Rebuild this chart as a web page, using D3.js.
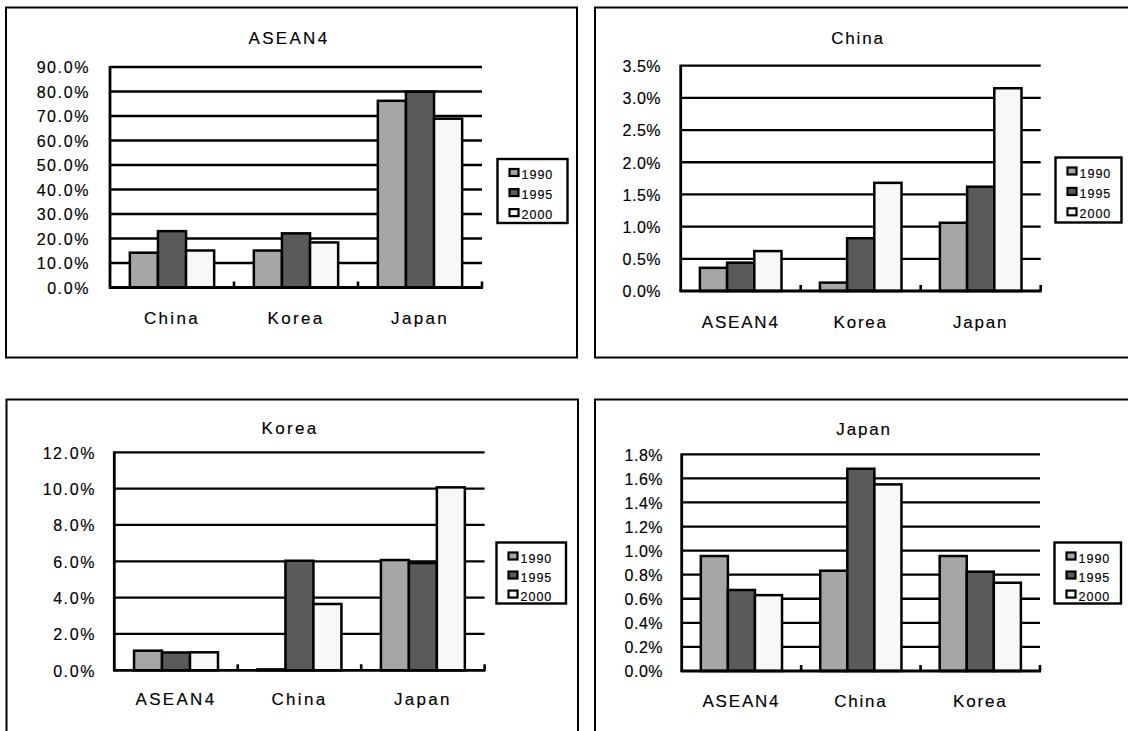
<!DOCTYPE html>
<html>
<head>
<meta charset="utf-8">
<script src="https://cdn.jsdelivr.net/npm/d3@7"></script>
<style>
  html, body { margin: 0; padding: 0; background: #fff; }
  svg { display: block; }
  text { font-family: "Liberation Sans", Arial, sans-serif; fill: #000; stroke: #000; stroke-width: 0.15px; }
</style>
</head>
<body>
<svg id="chart" width="1128" height="731"></svg>
<script>
// Shares by partner, 1990 / 1995 / 2000
const years = ["1990", "1995", "2000"];
const yearColors = ["#a6a6a6", "#5a5a5a", "#f8f8f8"];

// ASEAN4
const aseanPartners = ["China", "Korea", "Japan"];
const asean1990 = [0.142, 0.151, 0.762];
const asean1995 = [0.230, 0.221, 0.799];
const asean2000 = [0.151, 0.184, 0.689];
const aseanTicks = [0, 0.1, 0.2, 0.3, 0.4, 0.5, 0.6, 0.7, 0.8, 0.9];

// China
const chinaPartners = ["ASEAN4", "Korea", "Japan"];
const china1990 = [0.0036, 0.0013, 0.0106];
const china1995 = [0.0044, 0.0082, 0.0162];
const china2000 = [0.0062, 0.0168, 0.0315];
const chinaTicks = [0, 0.005, 0.01, 0.015, 0.02, 0.025, 0.03, 0.035];

// Korea
const koreaPartners = ["ASEAN4", "China", "Japan"];
const korea1990 = [0.0108, 0.0005, 0.0607];
const korea1995 = [0.0098, 0.0603, 0.0590];
const korea2000 = [0.0099, 0.0365, 0.1007];
const koreaTicks = [0, 0.02, 0.04, 0.06, 0.08, 0.10, 0.12];

// Japan
const japanPartners = ["ASEAN4", "China", "Korea"];
const japan1990 = [0.00955, 0.00833, 0.00955];
const japan1995 = [0.00673, 0.01680, 0.00825];
const japan2000 = [0.00630, 0.01550, 0.00733];
const japanTicks = [0, 0.002, 0.004, 0.006, 0.008, 0.010, 0.012, 0.014, 0.016, 0.018];

const panels = [
  { title: "ASEAN4", cats: aseanPartners, series: [asean1990, asean1995, asean2000], ticks: aseanTicks,
    frame: [6, 7.5, 571, 350], plot: [110, 67, 482, 287.5], titlePos: [289, 43.5], catY: 323.5,
    labelX: 90, legend: [497.5, 159, 70, 64], big: true },
  { title: "China", cats: chinaPartners, series: [china1990, china1995, china2000], ticks: chinaTicks,
    frame: [595, 7.5, 600, 350], plot: [680.7, 65.7, 1040.7, 291], titlePos: [858, 44], catY: 328,
    labelX: 661, legend: [1055.5, 157.5, 66, 65], big: false },
  { title: "Korea", cats: koreaPartners, series: [korea1990, korea1995, korea2000], ticks: koreaTicks,
    frame: [6.5, 399.5, 571.5, 400], plot: [114.3, 452.3, 484.6, 670.3], titlePos: [290, 433.5], catY: 705,
    labelX: 96, legend: [496.5, 542.5, 69.5, 61], big: true },
  { title: "Japan", cats: japanPartners, series: [japan1990, japan1995, japan2000], ticks: japanTicks,
    frame: [595, 399.5, 600, 400], plot: [681.7, 454.3, 1040, 671], titlePos: [864, 435], catY: 706.5,
    labelX: 663, legend: [1054.5, 542.5, 66.5, 61], big: false }
];

const svg = d3.select("#chart");
const fmt = d3.format(".1%");

panels.forEach(p => {
  const g = svg.append("g");
  const [x0, y0, x1, y1] = p.plot;

  // outer frame
  g.append("rect")
    .attr("x", p.frame[0]).attr("y", p.frame[1])
    .attr("width", p.frame[2]).attr("height", p.frame[3])
    .attr("fill", "#fff").attr("stroke", "#000").attr("stroke-width", 2);

  const y = d3.scaleLinear().domain([0, d3.max(p.ticks)]).range([y1, y0]);
  const x = d3.scaleBand().domain(p.cats).range([x0, x1]).padding(0);
  const bw = x.bandwidth();
  const xs = d3.scaleBand().domain(years).range([bw * 0.16, bw * 0.84]).padding(0);

  const labelSize = "17px";
  const labelSpacing = p.big ? "2.3px" : "1.8px";

  // title
  g.append("text")
    .attr("x", p.titlePos[0]).attr("y", p.titlePos[1])
    .attr("text-anchor", "middle")
    .style("font-size", labelSize).style("letter-spacing", labelSpacing)
    .text(p.title);

  // horizontal gridlines
  g.append("g").selectAll("line").data(p.ticks.filter(t => t > 0)).join("line")
    .attr("x1", x0).attr("x2", x1)
    .attr("y1", d => y(d)).attr("y2", d => y(d))
    .attr("stroke", "#000").attr("stroke-width", 2.3);

  // y tick labels
  g.append("g").selectAll("text").data(p.ticks).join("text")
    .attr("x", p.labelX).attr("y", d => y(d))
    .attr("dy", "0.4em")
    .attr("text-anchor", "end")
    .style("font-size", "16px").style("letter-spacing", p.big ? "1.6px" : "0.5px")
    .text(d => fmt(d));

  // bars
  const rows = p.cats.map((c, i) => years.map((yr, k) => ({ cat: c, year: yr, k, v: p.series[k][i] })));
  g.append("g").selectAll("rect").data(rows.flat()).join("rect")
    .attr("x", d => x(d.cat) + xs(d.year))
    .attr("y", d => y(d.v))
    .attr("width", xs.bandwidth())
    .attr("height", d => y(0) - y(d.v))
    .attr("fill", d => yearColors[d.k])
    .attr("stroke", "#000").attr("stroke-width", 2.5);

  // axes
  g.append("line").attr("x1", x0).attr("x2", x0).attr("y1", y0 - 1).attr("y2", y1 + 1)
    .attr("stroke", "#000").attr("stroke-width", 2.8);
  g.append("line").attr("x1", x0 - 1).attr("x2", x1 + 1).attr("y1", y1).attr("y2", y1)
    .attr("stroke", "#000").attr("stroke-width", 2.8);

  // category boundary ticks (pointing inward)
  const bounds = p.cats.slice(1).map(c => x(c)).concat([x1]);
  g.append("g").selectAll("line").data(bounds).join("line")
    .attr("x1", d => d).attr("x2", d => d)
    .attr("y1", y1 - 6).attr("y2", y1)
    .attr("stroke", "#000").attr("stroke-width", 2.6);

  // category labels
  g.append("g").selectAll("text").data(p.cats).join("text")
    .attr("x", d => x(d) + bw / 2).attr("y", p.catY)
    .attr("text-anchor", "middle")
    .style("font-size", labelSize).style("letter-spacing", labelSpacing)
    .text(d => d);

  // legend
  const [lx, ly, lw, lh] = p.legend;
  const lg = g.append("g").attr("transform", `translate(${lx},${ly})`);
  lg.append("rect").attr("width", lw).attr("height", lh)
    .attr("fill", "#fff").attr("stroke", "#000").attr("stroke-width", 2.4);
  const step = (lh - 5) / 3;
  years.forEach((yr, k) => {
    const cy = 13.5 + k * step * 1.02;
    lg.append("rect")
      .attr("x", 12).attr("y", cy - 3.5)
      .attr("width", 9).attr("height", 7)
      .attr("fill", yearColors[k]).attr("stroke", "#000").attr("stroke-width", 2.2);
    lg.append("text")
      .attr("x", 24).attr("y", cy + 6.5)
      .style("font-size", "12.5px").style("letter-spacing", "1px")
      .text(yr);
  });
});
</script>
</body>
</html>
